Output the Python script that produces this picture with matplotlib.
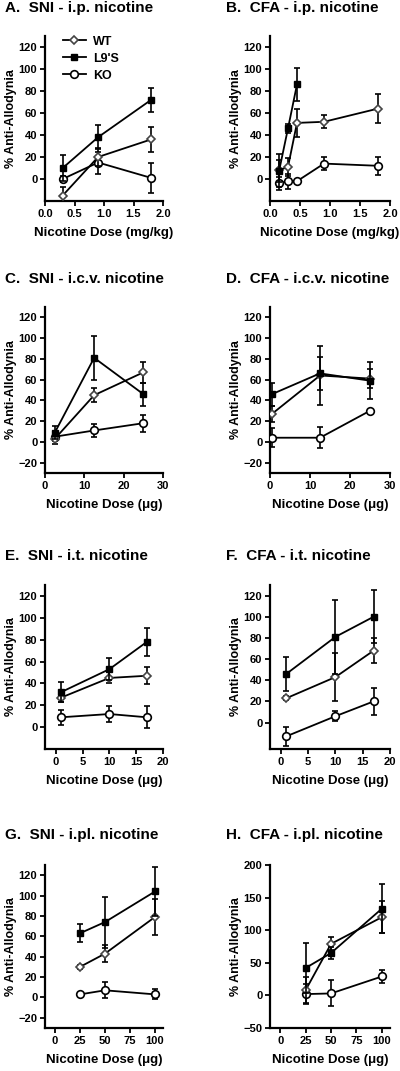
import matplotlib
matplotlib.use("Agg")
import matplotlib.pyplot as plt
from matplotlib.lines import Line2D

plt.rcParams['font.family'] = ['Liberation Sans', 'DejaVu Sans']
plt.rcParams['font.weight'] = 'bold'

# panel titles
titles = ["A.  SNI - i.p. nicotine", "B.  CFA - i.p. nicotine",
          "C.  SNI - i.c.v. nicotine", "D.  CFA - i.c.v. nicotine",
          "E.  SNI - i.t. nicotine", "F.  CFA - i.t. nicotine",
          "G.  SNI - i.pl. nicotine", "H.  CFA - i.pl. nicotine"]
xlabels = ["Nicotine Dose (mg/kg)"] * 2 + ["Nicotine Dose (\u03bcg)"] * 6

# A. SNI i.p.
a_dose = [0.3, 0.9, 1.8]
a_wt, a_wt_err = [-15, 20, 36], [8, 8, 11]
a_l9, a_l9_err = [10, 38, 72], [12, 11, 11]
a_ko, a_ko_err = [0, 15, 1], [3, 10, 14]

# B. CFA i.p.
b_dose = [0.15, 0.3, 0.45, 0.9, 1.8]
b_dose_l9 = [0.15, 0.3, 0.45]
b_wt, b_wt_err = [8, 11, 51, 52, 64], [15, 8, 13, 6, 13]
b_l9, b_l9_err = [7, 46, 86], [10, 4, 15]
b_ko, b_ko_err = [-4, -2, -2, 14, 12], [6, 7, 1, 6, 8]

# C. SNI i.c.v.
c_dose = [2.5, 12.5, 25]
c_wt, c_wt_err = [3, 45, 67], [5, 7, 10]
c_l9, c_l9_err = [9, 81, 46], [6, 21, 11]
c_ko, c_ko_err = [5, 11, 18], [4, 6, 8]

# D. CFA i.c.v.
d_dose = [0.5, 12.5, 25]
d_wt, d_wt_err = [27, 64, 61], [8, 28, 9]
d_l9, d_l9_err = [46, 66, 59], [11, 16, 18]
d_ko, d_ko_err = [4, 4, 30], [9, 10, 1]

# E. SNI i.t.
e_dose = [1, 10, 17]
e_wt, e_wt_err = [27, 45, 47], [4, 5, 8]
e_l9, e_l9_err = [32, 53, 78], [9, 10, 13]
e_ko, e_ko_err = [9, 12, 9], [7, 7, 10]

# F. CFA i.t.
f_dose = [1, 10, 17]
f_wt, f_wt_err = [23, 43, 68], [2, 23, 12]
f_l9, f_l9_err = [46, 81, 100], [16, 35, 25]
f_ko, f_ko_err = [-13, 6, 20], [9, 5, 13]

# G. SNI i.pl.
g_dose = [25, 50, 100]
g_wt, g_wt_err = [30, 43, 79], [2, 8, 18]
g_l9, g_l9_err = [63, 74, 104], [9, 25, 24]
g_ko, g_ko_err = [3, 7, 3], [1, 8, 5]

# H. CFA i.pl.
h_dose = [25, 50, 100]
h_wt, h_wt_err = [8, 79, 120], [20, 10, 25]
h_l9, h_l9_err = [42, 65, 133], [38, 9, 38]
h_ko, h_ko_err = [2, 3, 29], [15, 20, 10]

panels = [
    (a_dose, a_dose, a_wt, a_wt_err, a_l9, a_l9_err, a_ko, a_ko_err),
    (b_dose, b_dose_l9, b_wt, b_wt_err, b_l9, b_l9_err, b_ko, b_ko_err),
    (c_dose, c_dose, c_wt, c_wt_err, c_l9, c_l9_err, c_ko, c_ko_err),
    (d_dose, d_dose, d_wt, d_wt_err, d_l9, d_l9_err, d_ko, d_ko_err),
    (e_dose, e_dose, e_wt, e_wt_err, e_l9, e_l9_err, e_ko, e_ko_err),
    (f_dose, f_dose, f_wt, f_wt_err, f_l9, f_l9_err, f_ko, f_ko_err),
    (g_dose, g_dose, g_wt, g_wt_err, g_l9, g_l9_err, g_ko, g_ko_err),
    (h_dose, h_dose, h_wt, h_wt_err, h_l9, h_l9_err, h_ko, h_ko_err),
]

xlims = [(0, 2), (0, 2), (0, 30), (0, 30), (-2, 20), (-2, 20), (-10, 108), (-10, 108)]
xticks = [[0, 0.5, 1, 1.5, 2]] * 2 + [[0, 10, 20, 30]] * 2 + [[0, 5, 10, 15, 20]] * 2 + [[0, 25, 50, 75, 100]] * 2
ylims = [(-20, 130), (-20, 130), (-30, 130), (-30, 130), (-20, 130), (-25, 130), (-30, 130), (-50, 200)]
yticks = [range(0, 121, 20)] * 2 + [range(-20, 121, 20)] * 2 + [range(0, 121, 20)] * 2 + \
         [range(-20, 121, 20), range(-50, 201, 50)]

# axes boxes in pixels
rows = [(36, 201), (307, 473), (585, 749), (865, 1028)]
cols = [(45, 163), (270, 390)]
W, H = 400, 1071

wt_style = dict(marker='D', ms=3.8, mfc='white', mec='#444444', mew=1.2)
l9_style = dict(marker='s', ms=4.5, mfc='black', mec='black')
ko_style = dict(marker='o', ms=5.5, mfc='white', mec='black', mew=1.2)

fig = plt.figure(figsize=(4, 10.71), dpi=100)

for i, p in enumerate(panels):
    r, c = divmod(i, 2)
    top, bot = rows[r]
    left, right = cols[c]
    ax = fig.add_axes([left / W, 1 - bot / H, (right - left) / W, (bot - top) / H])
    dose, dose_l9, wt, wt_err, l9, l9_err, ko, ko_err = p
    eb = dict(color='black', lw=1.3, elinewidth=1.2, capsize=2.5, capthick=1.2)
    ax.errorbar(dose, ko, yerr=ko_err, zorder=3, **ko_style, **eb)
    ax.errorbar(dose, wt, yerr=wt_err, zorder=4, **wt_style, **eb)
    ax.errorbar(dose_l9, l9, yerr=l9_err, zorder=5, **l9_style, **eb)
    ax.set_xlim(*xlims[i])
    ax.set_ylim(*ylims[i])
    ax.set_xticks(xticks[i])
    if i < 2:
        ax.set_xticklabels(['0.0', '0.5', '1.0', '1.5', '2.0'])
    ax.set_yticks(list(yticks[i]))
    for s in ['top', 'right']:
        ax.spines[s].set_visible(False)
    for s in ['left', 'bottom']:
        ax.spines[s].set_linewidth(1.6)
    ax.tick_params(direction='out', length=3.5, width=1.3, labelsize=8, pad=2)
    for lab in ax.get_xticklabels() + ax.get_yticklabels():
        lab.set_fontweight('bold')
    ax.set_xlabel(xlabels[i], fontsize=9.5, fontweight='bold', labelpad=6)
    ax.set_ylabel('% Anti-Allodynia', fontsize=9, fontweight='bold', labelpad=1)
    fig.text((5 if c == 0 else 226) / W, 1 - (8 + [0, 271, 548, 827][r]) / H, titles[i],
             fontsize=11, fontweight='bold', ha='left', va='center')
    if i == 0:
        handles = [Line2D([], [], color='black', lw=1.3, **wt_style),
                   Line2D([], [], color='black', lw=1.3, **l9_style),
                   Line2D([], [], color='black', lw=1.3, **ko_style)]
        ax.legend(handles, ['WT', "L9'S", 'KO'], loc='upper left',
                  bbox_to_anchor=(0.1, 1.04), frameon=False, handlelength=1.8,
                  handletextpad=0.6, labelspacing=0.4, borderpad=0,
                  prop={'size': 9, 'weight': 'bold'})

fig.savefig('out.png', dpi=100)
